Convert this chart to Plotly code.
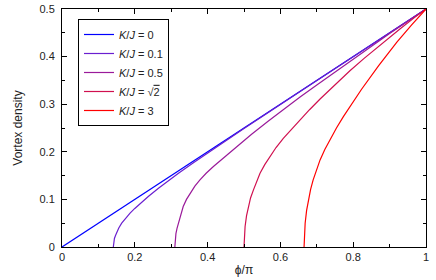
import plotly.graph_objects as go

# K/J = 0
x0 = [0.0, 1.0]
y0 = [0.0, 0.5]
# K/J = 0.1
x1 = [0.141, 0.142, 0.144, 0.147, 0.150, 0.156, 0.164, 0.175, 0.187, 0.200, 0.210, 0.237, 0.265, 0.292, 0.320, 0.360, 0.400, 0.500, 0.700, 1.0]
y1 = [0.0, 0.010, 0.018, 0.024, 0.030, 0.040, 0.050, 0.061, 0.071, 0.081, 0.088, 0.106, 0.1235, 0.1395, 0.1549, 0.1765, 0.1975, 0.2488, 0.3497, 0.5]
# K/J = 0.5
x2 = [0.310, 0.311, 0.313, 0.316, 0.320, 0.326, 0.333, 0.342, 0.352, 0.365, 0.379, 0.396, 0.416, 0.440, 0.462, 0.489, 0.520, 0.567, 0.610, 0.654, 0.700, 0.800, 0.900, 1.0]
y2 = [0.0, 0.016, 0.028, 0.039, 0.050, 0.068, 0.085, 0.100, 0.113, 0.128, 0.141, 0.155, 0.169, 0.185, 0.1995, 0.2168, 0.2365, 0.2649, 0.2901, 0.3150, 0.3405, 0.3946, 0.4485, 0.5]
# K/J = sqrt(2)
x3 = [0.500, 0.501, 0.503, 0.507, 0.512, 0.518, 0.526, 0.535, 0.544, 0.557, 0.571, 0.588, 0.608, 0.630, 0.654, 0.680, 0.709, 0.736, 0.764, 0.791, 0.830, 0.883, 0.930, 0.970, 1.0]
y3 = [0.0, 0.020, 0.043, 0.066, 0.085, 0.103, 0.120, 0.138, 0.155, 0.173, 0.190, 0.209, 0.228, 0.247, 0.267, 0.2884, 0.3110, 0.3312, 0.3513, 0.3702, 0.3963, 0.4301, 0.4591, 0.4829, 0.5]
# K/J = 3
x4 = [0.665, 0.666, 0.668, 0.672, 0.677, 0.683, 0.690, 0.699, 0.709, 0.722, 0.736, 0.754, 0.773, 0.797, 0.823, 0.870, 0.920, 0.960, 1.0]
y4 = [0.0, 0.025, 0.050, 0.077, 0.099, 0.121, 0.141, 0.163, 0.183, 0.205, 0.225, 0.250, 0.274, 0.3023, 0.3314, 0.3812, 0.4302, 0.4662, 0.5]

names = [
    "<i>K</i>/<i>J</i> = 0",
    "<i>K</i>/<i>J</i> = 0.1",
    "<i>K</i>/<i>J</i> = 0.5",
    "<i>K</i>/<i>J</i> = √<span style='text-decoration:overline'>2</span>",
    "<i>K</i>/<i>J</i> = 3",
]
colors = ["#0000ff", "#6a1fd0", "#9a1a9a", "#d0104f", "#ff0000"]
xs = [x0, x1, x2, x3, x4]
ys = [y0, y1, y2, y3, y4]

x_ticks = [0, 0.2, 0.4, 0.6, 0.8, 0.99999]
x_ticktext = ["0", "0.2", "0.4", "0.6", "0.8", "1"]
y_ticks = [0, 0.1, 0.2, 0.3, 0.4, 0.5]
y_ticktext = ["0", "0.1", "0.2", "0.3", "0.4", "0.5"]

fig = go.Figure()
for x, y, n, c in zip(xs, ys, names, colors):
    fig.add_trace(go.Scatter(x=x, y=y, mode="lines", name=n,
                             line=dict(color=c, width=1.2)))

fnt = "Liberation Sans, Arial"
axis_common = dict(
    showline=True, linecolor="black", linewidth=1, mirror="ticks",
    ticks="inside", ticklen=5, tickcolor="black", tickwidth=1,
    showgrid=False, zeroline=False, automargin=False,
    ticklabeloverflow="allow",
    tickfont=dict(family=fnt, size=11, color="#222"),
)
fig.update_xaxes(range=[0, 1], tickvals=x_ticks, ticktext=x_ticktext,
                 minor=dict(dtick=0.1, ticks="inside", ticklen=3, tickcolor="black"),
                 title=dict(text="ϕ/π", standoff=3,
                            font=dict(family=fnt, size=12, color="#222")),
                 **axis_common)
fig.update_yaxes(range=[0, 0.5], tickvals=y_ticks, ticktext=y_ticktext,
                 minor=dict(dtick=0.05, ticks="inside", ticklen=3, tickcolor="black"),
                 title=dict(text="Vortex density", standoff=14,
                            font=dict(family=fnt, size=12, color="#222")),
                 ticklabelstandoff=4,
                 **axis_common)

fig.update_layout(
    width=436, height=280,
    margin=dict(l=62, r=10, t=9, b=33),
    plot_bgcolor="white", paper_bgcolor="white",
    font=dict(family=fnt, size=11, color="#222"),
    legend=dict(x=0.044, y=0.958, xanchor="left", yanchor="top",
                bordercolor="black", borderwidth=1, bgcolor="white",
                itemwidth=30, tracegroupgap=0,
                font=dict(family=fnt, size=11, color="#222")),
    showlegend=True,
)

fig.write_html("out.html", config={"displayModeBar": False},
               post_script="document.body.style.margin='0';document.body.style.overflow='hidden';")
